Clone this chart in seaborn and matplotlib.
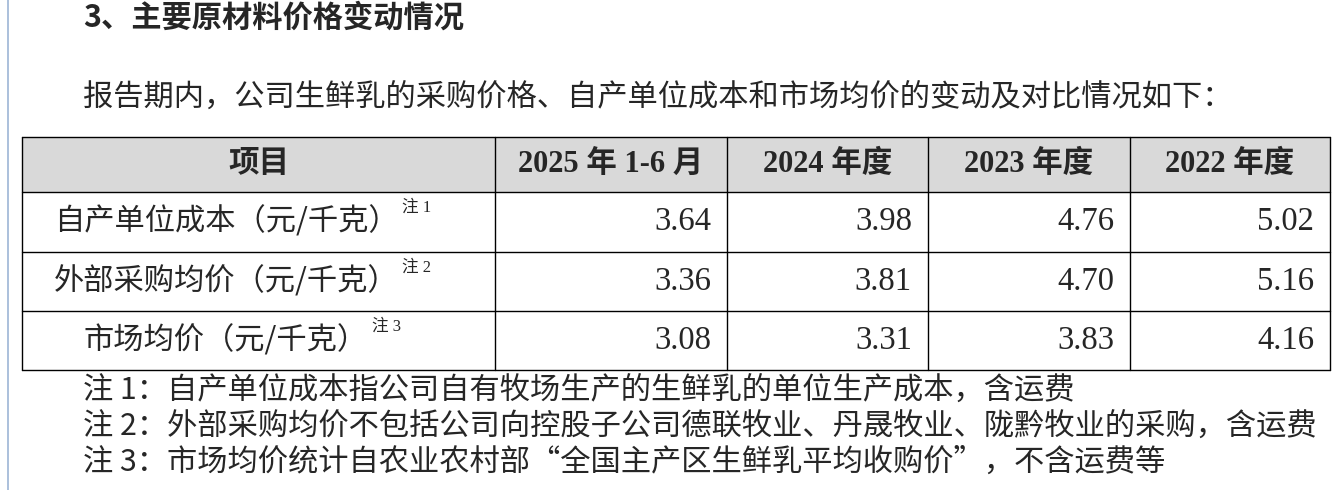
import matplotlib
matplotlib.use("Agg")
import matplotlib.pyplot as plt
import seaborn as sns
from matplotlib.patches import Rectangle

sns.set_theme(style="white")
plt.rcParams['font.family'] = ['Noto Sans CJK SC', 'DejaVu Sans']

title = "3、主要原材料价格变动情况"
intro = "报告期内，公司生鲜乳的采购价格、自产单位成本和市场均价的变动及对比情况如下："
columns = ["项目", "2025 年 1-6 月", "2024 年度", "2023 年度", "2022 年度"]
row_labels = ["自产单位成本（元/千克）", "外部采购均价（元/千克）", "市场均价（元/千克）"]
row_notes = ["注 1", "注 2", "注 3"]
values = [["3.64", "3.98", "4.76", "5.02"],
          ["3.36", "3.81", "4.70", "5.16"],
          ["3.08", "3.31", "3.83", "4.16"]]
notes = ["注 1：自产单位成本指公司自有牧场生产的生鲜乳的单位生产成本，含运费",
         "注 2：外部采购均价不包括公司向控股子公司德联牧业、丹晟牧业、陇黔牧业的采购，含运费",
         "注 3：市场均价统计自农业农村部“全国主产区生鲜乳平均收购价”，不含运费等"]

W, H = 1334, 490
fig = plt.figure(figsize=(W/100, H/100), dpi=100)
ax = fig.add_axes([0, 0, 1, 1])
ax.set_xlim(0, W); ax.set_ylim(H, 0); ax.axis('off')

ax.plot([8, 8], [0, H], color='#9db5d6', lw=1.2)
fs = 21.8
ax.text(83, 18, title, fontsize=fs, fontweight='bold', va='center', ha='left')
ax.text(83, 97, intro, fontsize=fs, va='center', ha='left')

xs = [22, 495, 727, 928, 1130, 1330]
ys = [137, 192, 252, 311, 370]
ax.add_patch(Rectangle((xs[0], ys[0]), xs[-1]-xs[0], ys[1]-ys[0], facecolor='#d9d9d9', edgecolor='none'))
for y in ys:
    ax.plot([xs[0], xs[-1]], [y, y], color='black', lw=1)
for x in xs:
    ax.plot([x, x], [ys[0], ys[-1]], color='black', lw=1)

serif = ['Liberation Serif', 'Noto Sans CJK SC']
for i, c in enumerate(columns):
    ax.text((xs[i]+xs[i+1])/2, (ys[0]+ys[1])/2, c, fontsize=22, fontweight='bold',
            ha='center', va='center', family=serif)
for r, lab in enumerate(row_labels):
    yc = (ys[r+1]+ys[r+2])/2
    t = ax.text(226, yc, lab, fontsize=fs, ha='center', va='center')
    fig.canvas.draw()
    bb = t.get_window_extent()
    ax.text(bb.x1 + 4, yc - 14, row_notes[r], fontsize=12, ha='left', va='center', family=serif)
    for j, v in enumerate(values[r]):
        ax.text(xs[j+2]-16, yc, v, fontsize=23.5, ha='right', va='center', family=serif)

for k, n in enumerate(notes):
    ax.text(83, 390 + k*36, n, fontsize=fs, ha='left', va='center')

fig.savefig("out.png", dpi=100)
